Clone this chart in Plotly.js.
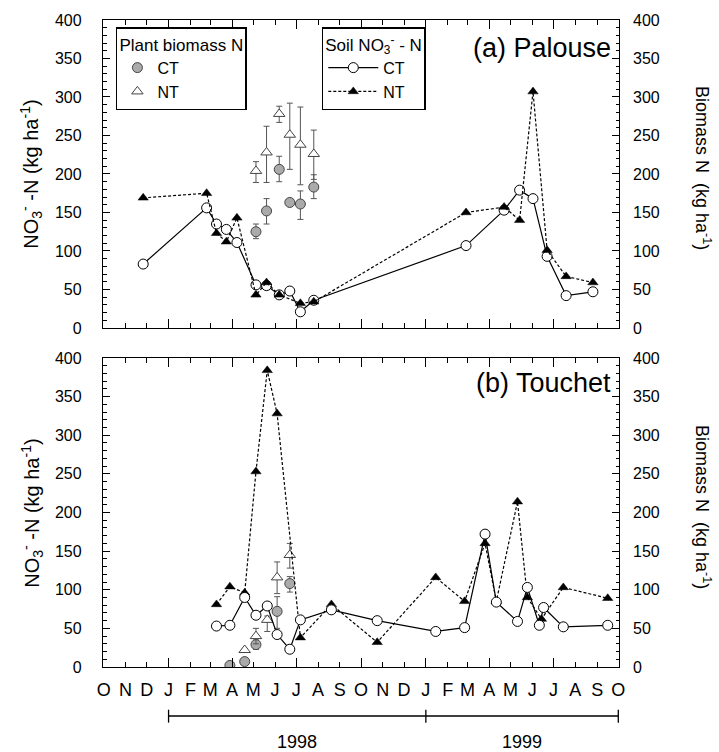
<!DOCTYPE html>
<html><head><meta charset="utf-8">
<script src="https://cdn.plot.ly/plotly-3.0.1.min.js"></script>
<style>html,body{margin:0;padding:0;background:#fff}#chart{width:719px;height:752px}</style>
</head><body><div id="chart"></div>
<script>
// ---------- axis ticks ----------
const monthTicks = ['1997-10-01','1997-11-01','1997-12-01','1998-01-01','1998-02-01','1998-03-01','1998-04-01','1998-05-01','1998-06-01','1998-07-01','1998-08-01','1998-09-01','1998-10-01','1998-11-01','1998-12-01','1999-01-01','1999-02-01','1999-03-01','1999-04-01','1999-05-01','1999-06-01','1999-07-01','1999-08-01','1999-09-01','1999-10-01'];
const monthLabels = ['O','N','D','J','F','M','A','M','J','J','A','S','O','N','D','J','F','M','A','M','J','J','A','S','O'];
const quarterTicks = ['1998-01-01','1998-04-01','1998-07-01','1998-10-01','1999-01-01','1999-04-01','1999-07-01'];
const xRange = ['1997-09-30','1999-10-02'];

// ---------- (a) Palouse : soil NO3-N ----------
const palCTDates = ['1997-11-26','1998-02-24','1998-03-10','1998-03-24','1998-04-08','1998-05-05','1998-05-20','1998-06-07','1998-06-22','1998-07-07','1998-07-26','1999-02-27','1999-04-22','1999-05-14','1999-06-02','1999-06-22','1999-07-19','1999-08-26'];
const palCT = [83,156,135,128,111,56,55,43,48,21,36,107,153,179,168,93,42,47];
const palNTDates = ['1997-11-26','1998-02-24','1998-03-10','1998-03-24','1998-04-08','1998-05-05','1998-05-20','1998-06-07','1998-07-07','1998-07-26','1999-02-27','1999-04-22','1999-05-14','1999-06-02','1999-06-22','1999-07-19','1999-08-26'];
const palNT = [169,175,123,112,143,43,59,43,32,34,150,157,140,307,101,67,59];

// ---------- (a) Palouse : plant biomass N ----------
const palBioDates = ['1998-05-05','1998-05-20','1998-06-07','1998-06-22','1998-07-07','1998-07-26'];
const palBioCT = [125,152,206,163,161,183];
const palBioCTHi = [135,168,223,166,178,199];
const palBioCTLo = [116,135,190,159,141,168];
const palBioNT = [204,228,278,251,238,226];
const palBioNTHi = [216,262,288,292,287,257];
const palBioNTLo = [189,189,267,206,186,193];

// ---------- (b) Touchet : soil NO3-N ----------
const touCTDates = ['1998-03-10','1998-03-29','1998-04-19','1998-05-05','1998-05-21','1998-06-04','1998-06-22','1998-07-07','1998-08-20','1998-10-24','1999-01-15','1999-02-25','1999-03-26','1999-04-11','1999-05-11','1999-05-25','1999-06-11','1999-06-17','1999-07-15','1999-09-16'];
const touCT = [53,54,90,67,79,42,23,61,74,60,46,51,172,84,59,103,54,77,52,54];
const touNTDates = ['1998-03-10','1998-03-29','1998-04-19','1998-05-05','1998-05-21','1998-06-04','1998-07-07','1998-08-20','1998-10-24','1999-01-15','1999-02-25','1999-03-26','1999-04-11','1999-05-11','1999-05-25','1999-06-14','1999-07-15','1999-09-16'];
const touNT = [81,104,96,253,384,328,38,81,32,116,85,160,85,214,90,62,103,89];

// ---------- (b) Touchet : plant biomass N ----------
const touBioCTDates = ['1998-03-29','1998-04-19','1998-05-05','1998-06-04','1998-06-22'];
const touBioCT = [2,7,29,72,108];
const touBioCTHi = [4,9,35,91,117];
const touBioCTLo = [0,5,23,50,97];
const touBioNTDates = ['1998-04-19','1998-05-05','1998-05-21','1998-06-04','1998-06-22'];
const touBioNT = [22,40,61,116,145];
const touBioNTHi = [24,50,66,136,160];
const touBioNTLo = [20,30,46,95,128];

// ---------- styling ----------
const FONT = 'Liberation Sans, Arial, Helvetica, sans-serif';
const ctLine = {color:'#000', width:1.2};
const ntLine = {color:'#000', width:1.2, dash:'3px,2px'};
const ctMarker = {symbol:'circle', size:10, color:'#fff', line:{color:'#000', width:1}};
const ntMarker = {symbol:'triangle-up', size:9, color:'#000', line:{color:'#000', width:0.5}};
const bioCTMarker = {symbol:'circle', size:10, color:'#aaaaaa', line:{color:'#444', width:1}};
const bioNTMarker = {symbol:'triangle-up', size:10, color:'#fff', line:{color:'#444', width:1}};

function errBar(vals, hi, lo){
  return {type:'data', symmetric:false,
    array: hi.map((h,i)=>h-vals[i]),
    arrayminus: lo.map((l,i)=>vals[i]-l),
    color:'#555', thickness:1, width:3};
}
// empty helper traces so that the overlay axes (right labels, quarter ticks) get drawn
function axisHolder(xa, ya){
  return {x:[], y:[], xaxis:xa, yaxis:ya, mode:'markers', showlegend:false, hoverinfo:'skip'};
}

const traces = [
  axisHolder('x','y3'), axisHolder('x2','y4'), axisHolder('x3','y'), axisHolder('x4','y2'),
  // biomass (top)
  {x:palBioDates, y:palBioCT, xaxis:'x2', yaxis:'y2', mode:'markers', name:'CT', legend:'legend',
   marker:bioCTMarker, error_y:errBar(palBioCT,palBioCTHi,palBioCTLo)},
  {x:palBioDates, y:palBioNT, xaxis:'x2', yaxis:'y2', mode:'markers', name:'NT', legend:'legend',
   marker:bioNTMarker, error_y:errBar(palBioNT,palBioNTHi,palBioNTLo)},
  // biomass (bottom)
  {x:touBioCTDates, y:touBioCT, xaxis:'x', yaxis:'y', mode:'markers', name:'CT', showlegend:false,
   marker:bioCTMarker, error_y:errBar(touBioCT,touBioCTHi,touBioCTLo)},
  {x:touBioNTDates, y:touBioNT, xaxis:'x', yaxis:'y', mode:'markers', name:'NT', showlegend:false,
   marker:bioNTMarker, error_y:errBar(touBioNT,touBioNTHi,touBioNTLo)},
  // soil (top)
  {x:palCTDates, y:palCT, xaxis:'x2', yaxis:'y2', mode:'lines+markers', name:'CT', legend:'legend2',
   line:ctLine, marker:ctMarker},
  {x:palNTDates, y:palNT, xaxis:'x2', yaxis:'y2', mode:'lines+markers', name:'NT', legend:'legend2',
   line:ntLine, marker:ntMarker},
  // soil (bottom)
  {x:touNTDates, y:touNT, xaxis:'x', yaxis:'y', mode:'lines+markers', name:'NT', showlegend:false,
   line:ntLine, marker:ntMarker},
  {x:touCTDates, y:touCT, xaxis:'x', yaxis:'y', mode:'lines+markers', name:'CT', showlegend:false,
   line:ctLine, marker:ctMarker}
];

const baseX = {type:'date', range:xRange, tickmode:'array', tickvals:monthTicks, ticktext:monthLabels,
  ticks:'inside', ticklen:5, tickwidth:1, tickcolor:'#000', showline:true, linecolor:'#000', linewidth:1.2,
  mirror:'ticks', showgrid:false, zeroline:false, fixedrange:true, ticklabelstandoff:6,
  tickfont:{family:FONT, size:18, color:'#000'}};
const quarterX = {type:'date', range:xRange, tickmode:'array', tickvals:quarterTicks,
  ticks:'inside', ticklen:9, tickwidth:1, tickcolor:'#000', showline:false, mirror:'ticks',
  showticklabels:false, showgrid:false, zeroline:false, fixedrange:true};
const baseY = {range:[0,400], tickmode:'linear', tick0:0, dtick:50, ticks:'inside', ticklen:7, tickwidth:1,
  tickcolor:'#000', minor:{dtick:10, ticks:'inside', ticklen:3.5, tickcolor:'#000', tickwidth:1},
  showline:true, linecolor:'#000', linewidth:1.2, mirror:'ticks', showgrid:false, zeroline:false,
  fixedrange:true, ticklabelstandoff:17, tickfont:{family:FONT, size:16, color:'#000'}};
const rightY = {range:[0,400], tickmode:'linear', tick0:0, dtick:50, ticks:'', side:'right',
  showline:false, showgrid:false, zeroline:false, fixedrange:true, ticklabelstandoff:13,
  tickfont:{family:FONT, size:16, color:'#000'}};

const yTop = [0.524, 1];
const yBot = [0, 0.4776];

const leftTitle = 'NO<sub>3</sub><sup>-</sup> -N (kg ha<sup>-1</sup>)';
const rightTitle = 'Biomass N  (kg ha<sup>-1</sup>)';

function ann(text, x, y, size, angle, xref){
  return {text:text, xref:xref||'paper', yref:'paper', x:x, y:y, xanchor:'center', yanchor:'middle',
    textangle:angle||0, showarrow:false, font:{family:FONT, size:size, color:'#000'}};
}

const layout = {
  width:719, height:752,
  margin:{l:103, r:100, t:20, b:85},
  paper_bgcolor:'#fff', plot_bgcolor:'#fff',
  font:{family:FONT, color:'#000'},
  xaxis: Object.assign({}, baseX, {anchor:'y', domain:[0,1]}),
  xaxis2: Object.assign({}, baseX, {anchor:'y2', domain:[0,1], showticklabels:false}),
  xaxis3: Object.assign({}, quarterX, {overlaying:'x', anchor:'y'}),
  xaxis4: Object.assign({}, quarterX, {overlaying:'x2', anchor:'y2'}),
  yaxis: Object.assign({}, baseY, {domain:yBot, anchor:'x'}),
  yaxis2: Object.assign({}, baseY, {domain:yTop, anchor:'x2'}),
  yaxis3: Object.assign({}, rightY, {overlaying:'y', anchor:'x'}),
  yaxis4: Object.assign({}, rightY, {overlaying:'y2', anchor:'x2'}),
  showlegend:true,
  legend:{x:0.025, y:0.989, xanchor:'left', yanchor:'top', bgcolor:'#fff', bordercolor:'#000', borderwidth:1.5,
    font:{family:FONT, size:16, color:'#000'}, title:{text:'Plant biomass N', font:{family:FONT, size:17}},
    tracegroupgap:0, itemwidth:30},
  legend2:{x:0.424, y:0.989, xanchor:'left', yanchor:'top', bgcolor:'#fff', bordercolor:'#000', borderwidth:1.5,
    font:{family:FONT, size:16, color:'#000'}, title:{text:'Soil NO<sub>3</sub><sup>-</sup> - N', font:{family:FONT, size:17}},
    tracegroupgap:0, itemwidth:50},
  shapes:[
    {type:'line', xref:'x', yref:'paper', x0:'1998-01-01', x1:'1999-10-01', y0:-0.0757, y1:-0.0757, line:{color:'#000', width:1.3}},
    {type:'line', xref:'x', yref:'paper', x0:'1998-01-01', x1:'1998-01-01', y0:-0.066, y1:-0.086, line:{color:'#000', width:1.3}},
    {type:'line', xref:'x', yref:'paper', x0:'1999-01-01', x1:'1999-01-01', y0:-0.066, y1:-0.086, line:{color:'#000', width:1.3}},
    {type:'line', xref:'x', yref:'paper', x0:'1999-10-01', x1:'1999-10-01', y0:-0.066, y1:-0.086, line:{color:'#000', width:1.3}}
  ],
  annotations:[
    ann('1998', '1998-07-02', -0.116, 18, 0, 'x'),
    ann('1999', '1999-05-17', -0.116, 18, 0, 'x'),
    Object.assign(ann('(a) Palouse', 0.988, 0.957, 27), {xanchor:'right'}),
    Object.assign(ann('(b) Touchet', 0.988, 0.439, 27), {xanchor:'right'}),
    ann(leftTitle, -0.138, 0.762, 20, -90),
    ann(leftTitle, -0.138, 0.238, 20, -90),
    ann(rightTitle, 1.162, 0.772, 18, 90),
    ann(rightTitle, 1.162, 0.248, 18, 90)
  ]
};

Plotly.newPlot('chart', traces, layout, {staticPlot:true, displayModeBar:false});
</script>
</body></html>
